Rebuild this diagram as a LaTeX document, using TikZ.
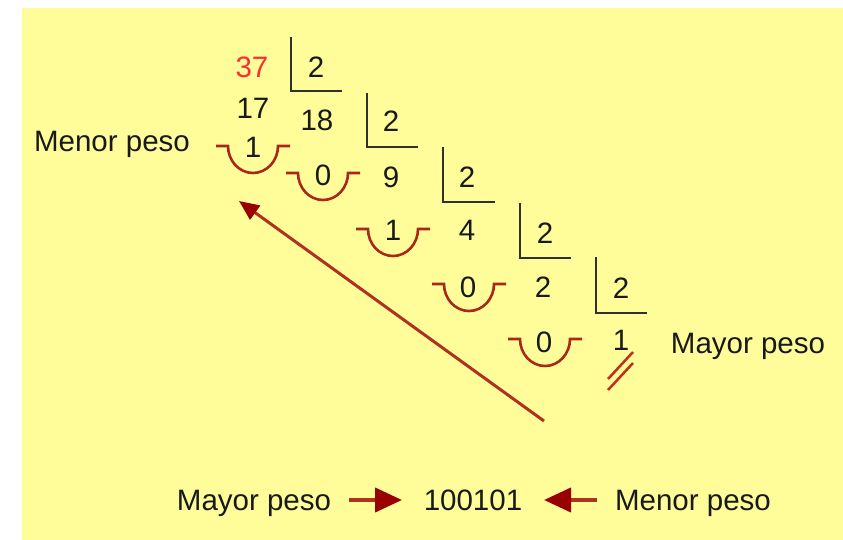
\documentclass[tikz,border=0pt]{standalone}
\usepackage{fontspec}
\setmainfont{Liberation Sans}
\usetikzlibrary{arrows.meta}
\definecolor{bgyellow}{RGB}{255,253,153}
\definecolor{arcred}{RGB}{170,40,25}
\definecolor{headred}{RGB}{153,0,0}
\definecolor{linered}{RGB}{175,50,30}
\definecolor{barred}{RGB}{195,45,30}
\definecolor{ink}{RGB}{25,25,25}
\definecolor{digitred}{RGB}{255,45,45}

\begin{document}
\begin{tikzpicture}[x=1pt,y=-1pt,
  txt/.style={inner sep=0pt, anchor=base, font=\fontsize{29.5}{35}\selectfont, text=ink},
  bracket/.style={draw=ink!90!white, line width=2.5pt},
  remarc/.style={draw=arcred, line width=2.6pt},
  remainder/.pic={\draw[remarc] (-37,0) -- (-25,0)
      arc[start angle=180, end angle=0, x radius=25, y radius=27] -- (37,0);},
  longarrow/.style={draw=linered, line width=3pt,
      -{Triangle[length=20pt,width=17pt,fill=headred,color=headred]}},
  shortarrow/.style={draw=linered, line width=4pt,
      -{Triangle[length=27pt,width=24pt,fill=headred,color=headred]}},
  endbar/.style={draw=barred, line width=2.5pt}]

\useasboundingbox (0,0) rectangle (843,540);
\fill[bgyellow] (22,8) rectangle (843,540);

% successive divisions by 2: bracket corners
\foreach \bx/\bt/\bb/\be in {291/37/91/342, 367/93/147/418, 443/147/202/495,
                             520/203/258/571, 596/257/313/647}
  \draw[bracket] (\bx,\bt) -- (\bx,\bb) -- (\be,\bb);

% dividend and divisors
\node[txt, text=digitred] (n37) at (252,77.5) {37};
\node[txt] (d1) at (316,77.5) {2};
\node[txt] (d2) at (391,131.5) {2};
\node[txt] (d3) at (467,187.5) {2};
\node[txt] (d4) at (545,243.5) {2};
\node[txt] (d5) at (621,298.5) {2};

% partial result and quotients
\node[txt] (n17) at (253,118.5) {17};
\node[txt] (q1) at (317,130.5) {18};
\node[txt] (q2) at (391,187.5) {9};
\node[txt] (q3) at (467,240.5) {4};
\node[txt] (q4) at (543,297.5) {2};
\node[txt] (q5) at (621,350.5) {1};

% remainders with their cups
\node[txt] (r1) at (253,157.5) {1};
\node[txt] (r2) at (323,185.5) {0};
\node[txt] (r3) at (393,240.5) {1};
\node[txt] (r4) at (468,297.5) {0};
\node[txt] (r5) at (544,352.5) {0};
\pic at (253,146) {remainder};
\pic at (323,173) {remainder};
\pic at (393,229) {remainder};
\pic at (469,284) {remainder};
\pic at (545,339) {remainder};

% end of the division
\draw[endbar] (608,379) -- (633,352);
\draw[endbar] (608,390) -- (633,363);

% weight labels
\node[txt] (lsb) at (112,151.5) {Menor peso};
\node[txt] (msb) at (748,353.5) {Mayor peso};

% reading direction
\coordinate (readstart) at (544,421);
\coordinate (readend) at (239,201);
\draw[longarrow] (readstart) -- (readend);

% result line
\node[txt] (bmsb) at (254,510.5) {Mayor peso};
\node[txt] (bin) at (473,510.5) {100101};
\node[txt] (blsb) at (693,510.5) {Menor peso};
\coordinate (a1s) at (349,500);
\coordinate (a1e) at (402,500);
\coordinate (a2s) at (597,500);
\coordinate (a2e) at (544,500);
\draw[shortarrow] (a1s) -- (a1e);
\draw[shortarrow] (a2s) -- (a2e);
\end{tikzpicture}
\end{document}
